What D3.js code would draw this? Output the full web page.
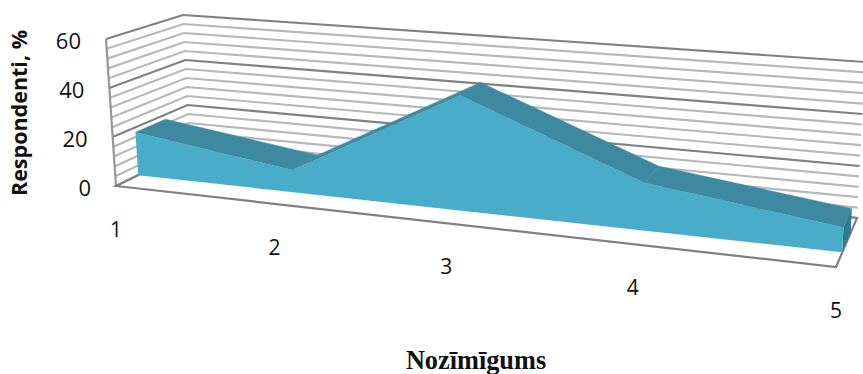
<!DOCTYPE html>
<html><head><meta charset="utf-8">
<script src="https://cdn.jsdelivr.net/npm/d3@7"></script>
<style>html,body{margin:0;padding:0;background:#fff}svg{display:block}</style>
</head><body><svg id="c" width="863" height="374"></svg>
<script>
const categories = ["1","2","3","4","5"];
const values = [18, 9, 45, 18, 9];
const yTicks = [0, 20, 40, 60];
const yGrid = d3.range(0, 61, 4);
const yTitle = "Respondenti, %";
const xTitle = "Nozīmīgums";

const colors = {front:"#4aacc8", top:"#3c8aa0", side:"#2f7a90", major:"#808080", minor:"#b8b8b8", edge:"#969696"};
const box = {
  fl0:[116,186], fr0:[836,267], bl0:[190,150], br0:[857,218],
  fl1:[106,39],  fr1:[843,97],  bl1:[183,15],  br1:[865,62]
};
const uScale = d3.scalePoint().domain(categories).range([0,1]);
const vScale = d3.scaleLinear().domain([0,60]).range([0,1]);
const wScale = d3.scaleLinear().domain([0,1]).range([0.3,0.7]);
const persp = 1.18;
const warp = u => u/(u+(1-u)*persp);
const mix = (a,b,t)=>[a[0]+(b[0]-a[0])*t, a[1]+(b[1]-a[1])*t];
function P(u,v,w){
  const t = warp(u);
  const f0 = mix(box.fl0,box.fr0,t), b0 = mix(box.bl0,box.br0,t);
  const f1 = mix(box.fl1,box.fr1,t), b1 = mix(box.bl1,box.br1,t);
  return mix(mix(f0,b0,w), mix(f1,b1,w), v);
}
const svg = d3.select("#c");
const defs = svg.append("defs");
defs.append("filter").attr("id","soft").append("feGaussianBlur").attr("stdDeviation",0.5);
const g = svg.append("g").attr("filter","url(#soft)");
const line = d3.line();

g.selectAll("path.grid").data(yGrid).join("path")
  .attr("class","grid").attr("fill","none")
  .attr("stroke",d=>d%20===0?colors.major:colors.minor)
  .attr("stroke-width",2.2)
  .attr("d",d=>{const v=vScale(d);return line([P(0,v,0),P(0,v,1),P(1,v,1)]);});
g.append("path").attr("fill","none").attr("stroke",colors.edge).attr("stroke-width",2.2)
  .attr("d",line([P(0,1,0),P(0,0,0)]));
g.append("path").attr("fill","#fff").attr("stroke",colors.major).attr("stroke-width",2.2)
  .attr("d",line([P(0,0,0),P(1,0,0),P(1,0,1),P(0,0,1)])+"Z");

const pts = categories.map((c,i)=>({u:uScale(c),v:vScale(values[i])}));
const w0 = wScale(0), w1 = wScale(1);
g.selectAll("path.top").data(d3.pairs(pts)).join("path").attr("class","top")
  .attr("fill",colors.top).attr("stroke",colors.top).attr("stroke-width",0.5)
  .attr("d",([a,b])=>line([P(a.u,a.v,w0),P(b.u,b.v,w0),P(b.u,b.v,w1),P(a.u,a.v,w1)])+"Z");
const last = pts[pts.length-1];
g.append("path").attr("fill",colors.side)
  .attr("d",line([P(1,0,w0),P(1,last.v,w0),P(1,last.v,w1),P(1,0,w1)])+"Z");
const front = [P(0,0,w0),...pts.map(p=>P(p.u,p.v,w0)),P(1,0,w0)];
g.append("path").attr("fill",colors.front).attr("d",line(front)+"Z");

const font = "'Open Sans', 'Noto Sans', sans-serif";
svg.selectAll("text.yt").data(yTicks).join("text").attr("class","yt")
  .attr("text-anchor","end").attr("font-family",font).attr("font-size",22).attr("fill","#111")
  .attr("x",d=>P(0,vScale(d),0)[0]-25).attr("y",d=>P(0,vScale(d),0)[1]+10)
  .text(d=>d);
svg.selectAll("text.xt").data(categories).join("text").attr("class","xt")
  .attr("text-anchor","middle").attr("font-family",font).attr("font-size",21).attr("fill","#111")
  .attr("x",d=>P(uScale(d),0,0)[0]).attr("y",d=>P(uScale(d),0,0)[1]+51)
  .text(d=>d);
svg.append("text").attr("transform","translate(27,113) rotate(-90)")
  .attr("text-anchor","middle").attr("font-family",font).attr("font-weight",700).attr("font-size",21.5).attr("fill","#111")
  .text(yTitle);
svg.append("text").attr("x",476).attr("y",369)
  .attr("text-anchor","middle").attr("font-family","'Liberation Serif', serif").attr("font-weight",700).attr("font-size",26.3).attr("fill","#111")
  .text(xTitle);
</script></body></html>
